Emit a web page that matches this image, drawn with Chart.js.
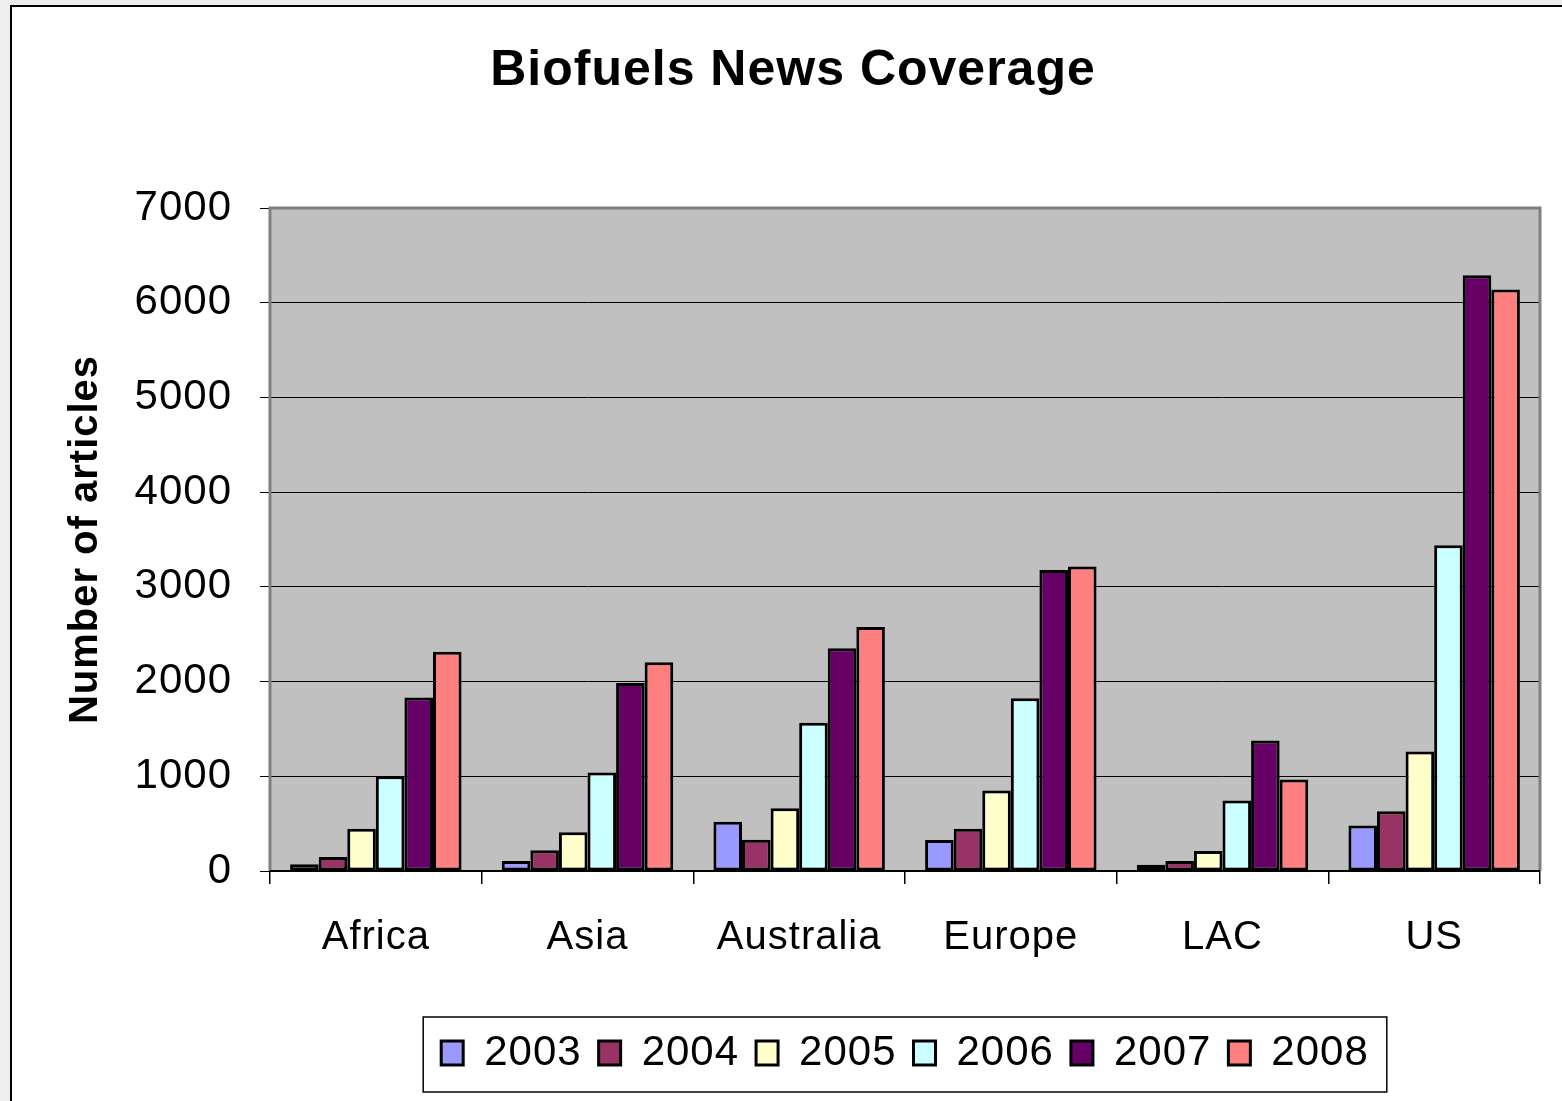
<!DOCTYPE html>
<html>
<head>
<meta charset="utf-8">
<script src="https://cdn.jsdelivr.net/npm/chart.js@4"></script>
<style>
  html, body { margin: 0; padding: 0; background: #fff; }
  #wrap { width: 1562px; height: 1101px; }
</style>
</head>
<body>
<div id="wrap"><canvas id="newsChart" width="1562" height="1101"></canvas></div>
<script>
// regions on the x axis
const regions = ['Africa', 'Asia', 'Australia', 'Europe', 'LAC', 'US'];
const years = ['2003', '2004', '2005', '2006', '2007', '2008'];

// number of articles per region, one array per year
const y2003 = [70, 106, 519, 328, 67, 480];
const y2004 = [148, 218, 331, 445, 105, 630];
const y2005 = [445, 409, 663, 851, 210, 1261];
const y2006 = [1000, 1041, 1564, 1825, 744, 3440];
const y2007 = [1833, 1984, 2352, 3178, 1378, 6290];
const y2008 = [2316, 2203, 2577, 3216, 966, 6140];

const yTicks = [0, 1000, 2000, 3000, 4000, 5000, 6000, 7000];

const yearColors = ['#9999FF', '#993366', '#FFFFCC', '#CCFFFF', '#660066', '#FF8080'];
const font = "'Liberation Sans', Arial, sans-serif";

// gray plot background, frame and legend box
const decor = {
  id: 'decor',
  beforeUpdate(chart) {
    // the old office chart has slightly spread lettering
    chart.ctx.letterSpacing = '1px';
  },
  afterLayout(chart) {
    const a = chart.chartArea;
    // legend sits under the plot, title a bit right of canvas centre
    chart.legend.left = a.left;
    chart.legend.right = a.right;
    chart.titleBlock.left = 24;
    chart.titleBlock.right = chart.width;
  },
  beforeDraw(chart) {
    const ctx = chart.ctx;
    const a = chart.chartArea;
    ctx.save();
    ctx.fillStyle = '#eeeeee';
    ctx.fillRect(0, 0, 11, chart.height);
    ctx.fillRect(0, 0, chart.width, 6);
    ctx.fillStyle = '#ffffff';
    ctx.fillRect(11, 6, chart.width - 11, chart.height - 6);
    ctx.strokeStyle = '#000';
    ctx.lineWidth = 2;
    ctx.beginPath();
    ctx.moveTo(11, chart.height);
    ctx.lineTo(11, 6);
    ctx.lineTo(chart.width, 6);
    ctx.stroke();
    ctx.fillStyle = '#C0C0C0';
    ctx.fillRect(a.left, a.top, a.right - a.left, a.bottom - a.top);
    ctx.restore();
    ctx.letterSpacing = '1px';
  },
  afterDraw(chart) {
    const ctx = chart.ctx;
    const a = chart.chartArea;
    ctx.save();
    ctx.strokeStyle = '#808080';
    ctx.lineWidth = 3;
    ctx.beginPath();
    ctx.moveTo(a.left, a.bottom);
    ctx.lineTo(a.left, a.top);
    ctx.lineTo(a.right, a.top);
    ctx.lineTo(a.right, a.bottom);
    ctx.stroke();
    ctx.strokeStyle = '#000';
    ctx.lineWidth = 2;
    ctx.beginPath();
    ctx.moveTo(a.left, a.bottom);
    ctx.lineTo(a.right, a.bottom);
    ctx.stroke();
    // legend frame
    const boxes = chart.legend.legendHitBoxes;
    if (boxes && boxes.length) {
      const l = Math.min(...boxes.map(b => b.left)) - 18;
      const r = Math.max(...boxes.map(b => b.left + b.width)) + 18;
      const t = Math.min(...boxes.map(b => b.top)) - 15;
      const btm = Math.max(...boxes.map(b => b.top + b.height)) + 18;
      ctx.strokeStyle = '#000';
      ctx.lineWidth = 1.5;
      ctx.strokeRect(l, t, r - l, btm - t);
    }
    ctx.restore();
  }
};

const seriesData = [y2003, y2004, y2005, y2006, y2007, y2008];

new Chart(document.getElementById('newsChart'), {
  type: 'bar',
  data: {
    labels: regions,
    datasets: years.map((yr, i) => ({
      label: yr,
      data: seriesData[i],
      backgroundColor: yearColors[i],
      borderColor: '#000',
      borderWidth: 3,
      borderSkipped: false
    }))
  },
  options: {
    responsive: false,
    animation: false,
    categoryPercentage: 0.81,
    barPercentage: 1.0,
    layout: { padding: { left: 0, right: 22, top: 0, bottom: 17 } },
    plugins: {
      tooltip: { enabled: false },
      title: {
        display: true,
        text: 'Biofuels News Coverage',
        color: '#000',
        font: { family: font, size: 50, weight: 'bold' },
        padding: { top: 41, bottom: 107 }
      },
      legend: {
        position: 'bottom',
        labels: {
          color: '#000',
          font: { family: font, size: 42 },
          boxWidth: 22,
          boxHeight: 24,
          padding: 17
        }
      }
    },
    scales: {
      x: {
        afterFit(scale) { scale.height = 144; },
        grid: {
          drawOnChartArea: false,
          drawTicks: true,
          tickLength: 13,
          color: '#000',
          lineWidth: 1.5
        },
        border: { display: false },
        ticks: {
          color: '#000',
          font: { family: font, size: 40 },
          padding: 30,
          maxRotation: 0
        }
      },
      y: {
        min: 0,
        max: 7000,
        afterFit(scale) { scale.width = 270; },
        afterBuildTicks(scale) { scale.ticks = yTicks.map(v => ({ value: v })); },
        grid: {
          color: '#000',
          lineWidth: 1,
          tickLength: 10,
          tickColor: '#000'
        },
        border: { display: false },
        ticks: {
          color: '#000',
          font: { family: font, size: 42 },
          padding: 28,
          callback: v => String(v)
        },
        title: {
          display: true,
          text: 'Number of articles',
          color: '#000',
          font: { family: font, size: 40, weight: 'bold' },
          padding: { top: 62 }
        }
      }
    }
  },
  plugins: [decor]
});
</script>
</body>
</html>
